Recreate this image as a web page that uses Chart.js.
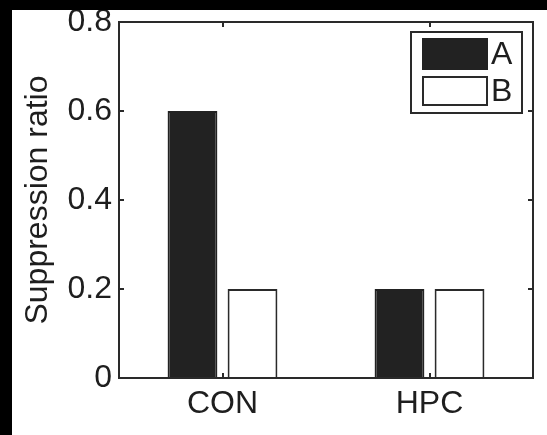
<!DOCTYPE html>
<html>
<head>
<meta charset="utf-8">
<script src="https://cdn.jsdelivr.net/npm/chart.js@4.4.0/dist/chart.umd.min.js"></script>
<style>
  html, body { margin: 0; padding: 0; background: #000; width: 547px; height: 435px; overflow: hidden; }
  #wrap { position: absolute; left: 12px; top: 10px; width: 535px; height: 425px; background: #fff; }
  canvas { display: block; }
</style>
</head>
<body>
<div id="wrap"><canvas id="c" width="535" height="425"></canvas></div>
<script>
const categories = ['CON', 'HPC'];
const seriesNames = ['A', 'B'];
const valuesA = [0.6, 0.2];
const valuesB = [0.2, 0.2];
const yTickValues = [0, 0.2, 0.4, 0.6, 0.8];
const yTickLabels = ['0', '0.2', '0.4', '0.6', '0.8'];
const yTitle = 'Suppression ratio';

const INK = '#1e1e1e';
const FONT = 'Liberation Sans, Arial, Helvetica, sans-serif';
const FS = 32;

const framePlugin = {
  id: 'frame',
  afterDatasetsDraw(chart) {
    const { ctx, chartArea: a, scales } = chart;
    ctx.save();
    ctx.strokeStyle = '#2a2a2a';
    ctx.lineWidth = 2;
    ctx.strokeRect(a.left, a.top, a.right - a.left, a.bottom - a.top);
    ctx.beginPath();
    yTickValues.forEach(v => {
      const y = Math.round(scales.y.getPixelForValue(v));
      ctx.moveTo(a.left, y); ctx.lineTo(a.left + 5, y);
      ctx.moveTo(a.right, y); ctx.lineTo(a.right - 5, y);
    });
    categories.forEach((c, i) => {
      const x = Math.round(scales.x.getPixelForValue(i));
      ctx.moveTo(x, a.top); ctx.lineTo(x, a.top + 5);
      ctx.moveTo(x, a.bottom); ctx.lineTo(x, a.bottom - 5);
    });
    ctx.stroke();

    // legend box (inside plot, top-right)
    const bw = 111, bh = 81;
    const bx = a.right - 11 - bw, by = a.top + 10;
    ctx.fillStyle = '#fff';
    ctx.fillRect(bx, by, bw, bh);
    ctx.strokeRect(bx, by, bw, bh);
    const ds = chart.data.datasets;
    const rows = [{ y: by + 7, h: 30 }, { y: by + 45, h: 28 }];
    ds.forEach((d, i) => {
      const r = rows[i];
      ctx.fillStyle = d.backgroundColor;
      ctx.fillRect(bx + 12, r.y, 64, r.h);
      ctx.strokeStyle = d.borderColor;
      ctx.lineWidth = 2;
      ctx.strokeRect(bx + 12, r.y, 64, r.h);
      ctx.fillStyle = INK;
      ctx.font = FS + 'px ' + FONT;
      ctx.textBaseline = 'middle';
      ctx.textAlign = 'left';
      ctx.fillText(d.label, bx + 80, r.y + r.h / 2 + 1);
    });
    ctx.restore();
  }
};

new Chart(document.getElementById('c'), {
  type: 'bar',
  data: {
    labels: categories,
    datasets: [
      { label: seriesNames[0], data: valuesA, backgroundColor: '#222222', borderColor: '#222222', borderWidth: 2 },
      { label: seriesNames[1], data: valuesB, backgroundColor: '#ffffff', borderColor: '#2a2a2a', borderWidth: 2 }
    ]
  },
  options: {
    responsive: false,
    animation: false,
    events: [],
    categoryPercentage: 0.58,
    barPercentage: 0.83,
    layout: { padding: { top: 12, right: 14, left: 0, bottom: 0 } },
    plugins: { legend: { display: false }, tooltip: { enabled: false } },
    scales: {
      x: {
        grid: { display: false, drawTicks: false },
        border: { display: false },
        ticks: { color: INK, font: { size: FS, family: FONT }, padding: 7 },
        afterFit(s) { s.height = 57; s.paddingLeft = 0; s.paddingRight = 0; }
      },
      y: {
        min: 0, max: 0.8,
        afterBuildTicks(s) { s.ticks = yTickValues.map(v => ({ value: v })); },
        grid: { display: false, drawTicks: false },
        border: { display: false },
        ticks: {
          color: INK, font: { size: FS, family: FONT }, padding: 7,
          callback(v, i) { return yTickLabels[i]; }
        },
        title: { display: true, text: yTitle, color: INK, font: { size: FS, family: FONT }, padding: { top: 7, bottom: 0 } },
        afterFit(s) { s.width = 107; s.paddingTop = 0; s.paddingBottom = 0; }
      }
    }
  },
  plugins: [framePlugin]
});
</script>
</body>
</html>
